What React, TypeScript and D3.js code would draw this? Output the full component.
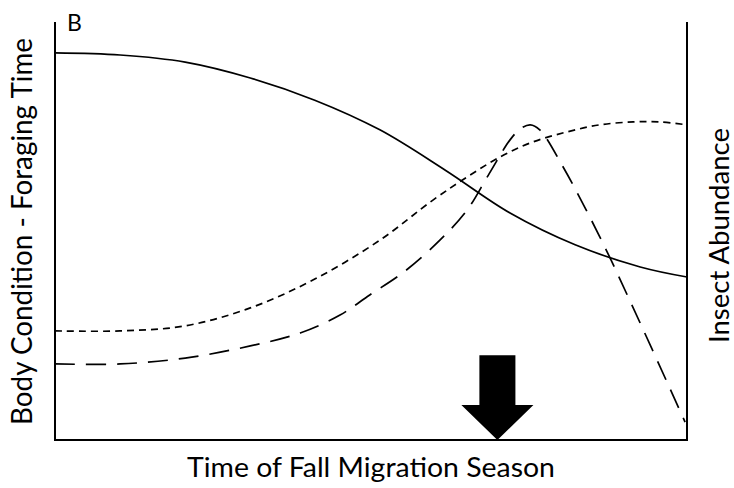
import React from "react";
import * as d3 from "d3";

const W = 734;
const H = 488;

// x: time of season (0-100), y: relative level (0-100)
const bodyX = [0, 10.3, 20.6, 30.9, 41.1, 51.4, 61.7, 72.0, 82.3, 92.6, 100];
const bodyY = [92.6, 92.1, 90.4, 86.6, 81.3, 74.2, 64.6, 54.3, 46.7, 41.4, 39.0];

const foragingX = [0, 10.3, 20.6, 30.9, 41.1, 51.4, 59.8, 65.2, 70.4, 75.6, 81.0, 86.2, 91.5, 95.7, 100];
const foragingY = [26.1, 26.1, 27.3, 31.6, 38.5, 47.8, 57.4, 62.9, 67.7, 71.3, 73.7, 75.4, 76.1, 76.1, 75.4];

const insectX = [0, 10.3, 20.6, 30.9, 38.8, 45.1, 49.8, 55.2, 60.9, 65.2, 68.5, 72.0, 73.6, 75.2, 76.7, 80.4, 86.2, 90.7, 99.7];
const insectY = [18.2, 18.2, 19.6, 22.5, 25.6, 29.9, 34.7, 40.2, 47.8, 55.0, 63.2, 71.8, 74.4, 75.4, 74.2, 65.3, 48.6, 34.2, 4.3];

// Migration arrow (data units)
const arrowX = [70.0];
const arrowTopY = [20.3];
const arrowHeadBaseY = [8.4];
const arrowShaftHalf = [2.85];
const arrowHeadHalf = [5.7];

const panelLabel = "B";
const xLabel = "Time of Fall Migration Season";
const yLeftLabel = "Body Condition - Foraging Time";
const yRightLabel = "Insect Abundance";

const FONT = "Lato, 'Open Sans', 'DejaVu Sans', sans-serif";

export default function App() {
  const left = 55, right = 687, top = 22, bottom = 440;
  const x = d3.scaleLinear().domain([0, 100]).range([left, right]);
  const y = d3.scaleLinear().domain([0, 100]).range([bottom, top]);

  const mk = (xs: number[], ys: number[]) =>
    d3
      .line<number>()
      .x((_, i) => x(xs[i]))
      .y((_, i) => y(ys[i]))
      .curve(d3.curveCatmullRom.alpha(0.5))(xs) as string;

  const ax = arrowX[0];
  const arrowPts: [number, number][] = [
    [x(ax - arrowShaftHalf[0]), y(arrowTopY[0])],
    [x(ax + arrowShaftHalf[0]), y(arrowTopY[0])],
    [x(ax + arrowShaftHalf[0]), y(arrowHeadBaseY[0])],
    [x(ax + arrowHeadHalf[0]), y(arrowHeadBaseY[0])],
    [x(ax), y(0)],
    [x(ax - arrowHeadHalf[0]), y(arrowHeadBaseY[0])],
    [x(ax - arrowShaftHalf[0]), y(arrowHeadBaseY[0])],
  ];
  const arrowPath = "M" + arrowPts.map((p) => p.join(",")).join("L") + "Z";

  return (
    <svg
      width={W}
      height={H}
      style={{ position: "absolute", left: 0, top: 0, background: "#fff" }}
    >
      <rect x={0} y={0} width={W} height={H} fill="#fff" />
      {/* axes */}
      <line x1={left} y1={top} x2={left} y2={bottom + 1} stroke="#000" strokeWidth={2} />
      <line x1={left} y1={bottom} x2={right + 1} y2={bottom} stroke="#000" strokeWidth={2} />
      <line x1={right} y1={top} x2={right} y2={bottom + 1} stroke="#000" strokeWidth={2} />

      {/* curves */}
      <path d={mk(bodyX, bodyY)} fill="none" stroke="#000" strokeWidth={1.7} />
      <path
        d={mk(foragingX, foragingY)}
        fill="none"
        stroke="#000"
        strokeWidth={1.7}
        strokeDasharray="7,5"
      />
      <path
        d={mk(insectX, insectY)}
        fill="none"
        stroke="#000"
        strokeWidth={1.7}
        strokeDasharray="20,11"
      />

      {/* arrow */}
      <path d={arrowPath} fill="#000" />

      {/* labels */}
      <text x={67} y={31} fontFamily={FONT} fontSize={23} fill="#000">
        {panelLabel}
      </text>
      <text
        x={(left + right) / 2}
        y={477}
        textAnchor="middle"
        fontFamily={FONT}
        fontSize={27}
        textLength={368}
        lengthAdjust="spacingAndGlyphs"
        fill="#000"
      >
        {xLabel}
      </text>
      <text
        transform={`translate(32,${(425 + 38) / 2}) rotate(-90)`}
        textAnchor="middle"
        fontFamily={FONT}
        fontSize={28}
        textLength={387}
        lengthAdjust="spacingAndGlyphs"
        fill="#000"
      >
        {yLeftLabel}
      </text>
      <text
        transform={`translate(729,${(343 + 128) / 2}) rotate(-90)`}
        textAnchor="middle"
        fontFamily={FONT}
        fontSize={26}
        textLength={215}
        lengthAdjust="spacingAndGlyphs"
        fill="#000"
      >
        {yRightLabel}
      </text>
    </svg>
  );
}
